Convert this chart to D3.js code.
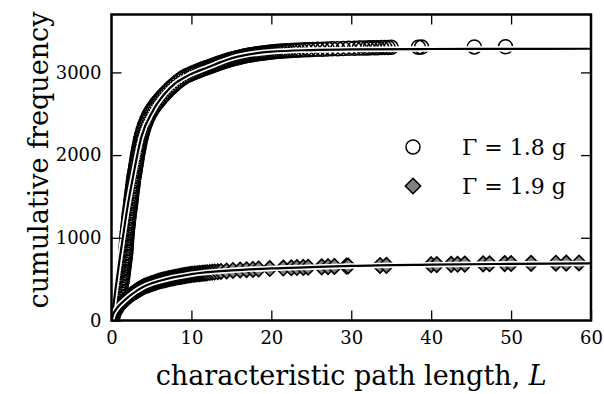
<!DOCTYPE html>
<html lang="en">
  <head>
    <meta charset="utf-8">
    <title>cumulative frequency</title>
    <script src="https://cdn.jsdelivr.net/npm/d3@7"></script>
    <style type="text/css">
      body { margin: 0; background: #fff; }
      text { font-family: "DejaVu Serif", serif; fill: #000; }
      .tick line { stroke: #000; stroke-width: 1.3; }
      .frame { fill: none; stroke: #000; stroke-width: 2.5; }
    </style>
  </head>
  <body>
    <svg width="604" height="394"></svg>
    <script type="text/javascript">
      // Gamma = 1.8 g, open circles (L, cumulative frequency)
      var circleL = [0.45,0.55,0.65,0.74,0.83,0.92,1.0,1.06,1.1,1.16,1.22,1.28,1.34,1.39,1.43,1.47,1.5,1.54,1.58,1.62,
        1.66,1.7,1.74,1.77,1.8,1.82,1.84,1.87,1.89,1.91,1.93,1.96,1.99,2.02,2.06,2.1,2.13,2.16,2.19,2.22,
        2.27,2.32,2.37,2.4,2.43,2.46,2.5,2.54,2.58,2.62,2.66,2.7,2.74,2.78,2.83,2.88,2.93,2.98,3.03,3.08,
        3.13,3.18,3.23,3.28,3.34,3.4,3.46,3.52,3.58,3.64,3.72,3.8,3.89,3.98,4.08,4.19,4.31,4.44,4.58,4.73,
        4.9,5.05,5.22,5.4,5.6,5.8,6.02,6.25,6.48,6.72,6.97,7.23,7.5,7.78,8.08,8.4,8.75,9.05,9.38,9.7,
        10.0,10.25,10.5,10.75,11.0,11.25,11.5,11.75,12.0,12.25,12.5,12.75,13.0,13.25,13.5,13.75,14.0,14.25,14.5,14.75,
        15.0,15.25,15.5,15.75,16.0,16.25,16.5,16.75,17.0,17.25,17.5,17.75,18.0,18.25,18.5,18.75,19.0,19.25,19.5,19.75,
        20.0,20.3,20.6,20.9,21.2,21.5,21.8,22.1,22.5,22.9,23.3,23.7,24.2,24.7,25.2,25.8,26.4,27.0,27.6,28.3,
        29.0,29.7,30.4,31.0,31.5,32.0,32.4,32.9,33.3,33.8,34.2,34.6,35.0,38.4,38.8,45.4,49.3];
      var circleF = [120,150,180,210,240,270,300,330,360,390,420,450,480,510,540,570,600,630,660,690,
        720,750,780,810,840,870,900,930,960,990,1020,1050,1080,1110,1140,1170,1200,1230,1260,1290,
        1320,1350,1380,1410,1440,1470,1500,1530,1560,1590,1620,1650,1680,1710,1740,1770,1800,1830,1860,1890,
        1920,1950,1980,2010,2040,2070,2100,2130,2160,2190,2220,2250,2280,2310,2340,2370,2400,2430,2460,2490,
        2520,2545,2570,2595,2620,2645,2670,2695,2720,2745,2770,2795,2820,2845,2870,2895,2920,2940,2958,2972,
        2985,2995,3005,3015,3025,3034,3043,3052,3060,3069,3078,3087,3096,3105,3113,3121,3129,3137,3145,3152,
        3159,3166,3172,3178,3184,3190,3195,3200,3205,3209,3213,3217,3221,3225,3228,3231,3234,3237,3240,3243,
        3246,3249,3252,3255,3257,3259,3261,3263,3265,3267,3269,3271,3273,3275,3277,3279,3281,3283,3285,3287,
        3289,3291,3293,3294,3295,3296,3297,3298,3299,3300,3301,3302,3303,3305,3306,3308,3310];

      // Gamma = 1.9 g, grey diamonds
      var diamondL = [0.05,0.1,0.15,0.2,0.25,0.3,0.35,0.4,0.45,0.5,0.55,0.6,0.65,0.7,0.75,0.8,0.85,0.9,0.95,1.0,
        1.05,1.1,1.15,1.2,1.3,1.4,1.5,1.6,1.7,1.8,1.9,2.0,2.1,2.2,2.3,2.4,2.5,2.6,2.7,2.8,
        2.9,3.0,3.1,3.2,3.3,3.4,3.5,3.6,3.7,3.8,3.9,4.0,4.15,4.3,4.45,4.6,4.75,4.9,5.05,5.2,
        5.35,5.5,5.65,5.8,5.95,6.1,6.25,6.4,6.55,6.7,6.85,7.0,7.15,7.3,7.45,7.6,7.75,7.9,8.05,8.2,
        8.35,8.5,8.65,8.8,8.95,9.1,9.25,9.4,9.55,9.7,9.85,10.0,10.2,10.4,10.6,10.8,11.0,11.2,11.4,11.6,
        11.8,12.0,12.3,12.6,12.9,13.3,13.7,14.4,15.2,16.1,16.9,17.7,18.4,19.8,21.5,22.5,23.2,24.0,24.6,26.3,
        27.1,27.9,29.4,29.6,33.6,34.4,40.0,40.7,42.5,43.3,44.2,46.5,47.3,49.2,50.0,52.5,55.6,56.9,58.5];
      var diamondF = [20,38,55,70,80,90,99,107,115,122,130,137,145,152,158,164,170,175,180,185,
        190,195,200,205,214,223,232,241,250,259,268,276,284,292,300,308,316,323,329,335,
        342,350,355,361,367,373,379,384,390,396,402,408,414,420,426,431,436,441,446,451,
        456,461,466,471,476,480,483,487,491,494,497,501,504,508,511,514,517,520,523,526,
        529,532,534,537,540,543,545,547,550,552,555,557,559,561,563,565,567,569,571,573,
        575,577,580,583,586,589,593,599,605,610,614,618,622,628,634,637,640,642,644,649,
        651,654,658,659,665,667,675,676,679,680,682,685,686,688,689,691,693,694,696];

      // fitted curves
      var fit18L = [0,0.5,1,1.31,2,2.69,3.73,5.2,6.65,8,9.56,12.06,15,20,25,30,40,50,60];
      var fit18F = [0,380,730,931,1370,1735,2217,2540,2741,2870,2961,3062,3170,3250,3270,3278,3283,3285,3286];
      var fit19L = [0,0.2,0.65,1.2,1.9,3,4,6.06,10,15,20,25,30,40,50,60];
      var fit19F = [0,70,147,205,268,350,408,480,560,605,630,645,660,675,685,690];

      var xTicks = [0,10,20,30,40,50,60];
      var yTicks = [0,1000,2000,3000];
      var legendLabels = ["\u0393 = 1.8 g", "\u0393 = 1.9 g"];

      var svg = d3.select("svg"),
          x0 = 111.5, x1 = 591, y0 = 320.5, y1 = 14.5;

      var x = d3.scaleLinear().domain([0, 60]).range([x0, x1]);
      var y = d3.scaleLinear().domain([0, 3700]).range([y0, y1]);

      svg.append("defs").append("clipPath").attr("id", "clip")
        .append("rect")
          .attr("x", x0).attr("y", y1)
          .attr("width", x1 - x0).attr("height", y0 - y1);

      var plot = svg.append("g").attr("clip-path", "url(#clip)");

      var circles = circleL.map(function(d, i) { return [d, circleF[i]]; });
      var diamonds = diamondL.map(function(d, i) { return [d, diamondF[i]]; });

      plot.selectAll(".c18")
        .data(circles)
        .enter().append("circle")
          .attr("class", "c18")
          .attr("cx", function(d) { return x(d[0]); })
          .attr("cy", function(d) { return y(d[1]); })
          .attr("r", 7)
          .attr("fill", "none")
          .attr("stroke", "#000")
          .attr("stroke-width", 1.5);

      var diamond = d3.symbol().type(d3.symbolDiamond2).size(150);

      plot.selectAll(".d19")
        .data(diamonds)
        .enter().append("path")
          .attr("class", "d19")
          .attr("d", diamond)
          .attr("transform", function(d) { return "translate(" + x(d[0]) + "," + y(d[1]) + ")"; })
          .attr("fill", "#808080")
          .attr("stroke", "#000")
          .attr("stroke-width", 1.6);

      var line = d3.line()
        .x(function(d) { return x(d[0]); })
        .y(function(d) { return y(d[1]); })
        .curve(d3.curveMonotoneX);

      [[fit18L, fit18F], [fit19L, fit19F]].forEach(function(f) {
        var pts = f[0].map(function(d, i) { return [d, f[1][i]]; });
        plot.append("path").datum(pts)
          .attr("d", line)
          .attr("fill", "none")
          .attr("stroke", "#fff")
          .attr("stroke-width", 5.5);
        plot.append("path").datum(pts)
          .attr("d", line)
          .attr("fill", "none")
          .attr("stroke", "#000")
          .attr("stroke-width", 2.2);
      });

      // axes with inward ticks on all four sides
      var xb = svg.append("g")
        .attr("transform", "translate(0," + y0 + ")")
        .call(d3.axisBottom(x).tickValues(xTicks).tickSize(-10).tickPadding(11).tickFormat(d3.format("d")));
      var yl = svg.append("g")
        .attr("transform", "translate(" + x0 + ",0)")
        .call(d3.axisLeft(y).tickValues(yTicks).tickSize(-10).tickPadding(10).tickFormat(d3.format("d")));
      svg.append("g")
        .attr("transform", "translate(0," + y1 + ")")
        .call(d3.axisTop(x).tickValues(xTicks.slice(1, -1)).tickSize(-10).tickFormat(""));
      svg.append("g")
        .attr("transform", "translate(" + x1 + ",0)")
        .call(d3.axisRight(y).tickValues(yTicks.slice(1)).tickSize(-10).tickFormat(""));

      svg.selectAll(".domain").remove();
      [xb, yl].forEach(function(a) {
        a.selectAll("text").style("font-size", "18px").style("font-family", "DejaVu Serif");
      });

      svg.append("rect")
        .attr("class", "frame")
        .attr("x", x0).attr("y", y1)
        .attr("width", x1 - x0).attr("height", y0 - y1);

      svg.append("text")
        .attr("x", (x0 + x1) / 2)
        .attr("y", 385)
        .attr("text-anchor", "middle")
        .style("font-size", "27px")
        .html("characteristic path length, <tspan font-style='italic'>L</tspan>");

      svg.append("text")
        .attr("transform", "translate(48,160) rotate(-90)")
        .attr("text-anchor", "middle")
        .style("font-size", "27px")
        .text("cumulative frequency");

      // legend
      var lg = svg.append("g").attr("transform", "translate(413,147)");
      lg.append("circle")
        .attr("cx", 0).attr("cy", 0).attr("r", 7)
        .attr("fill", "#fff").attr("stroke", "#000").attr("stroke-width", 1.5);
      lg.append("path")
        .attr("d", diamond)
        .attr("transform", "translate(0,39)")
        .attr("fill", "#808080").attr("stroke", "#000").attr("stroke-width", 1.5);
      lg.selectAll(".lab")
        .data(legendLabels)
        .enter().append("text")
          .attr("class", "lab")
          .attr("x", 49)
          .attr("y", function(d, i) { return 8 + i * 39; })
          .style("font-size", "22px")
          .text(function(d) { return d; });
    </script>
  </body>
</html>
